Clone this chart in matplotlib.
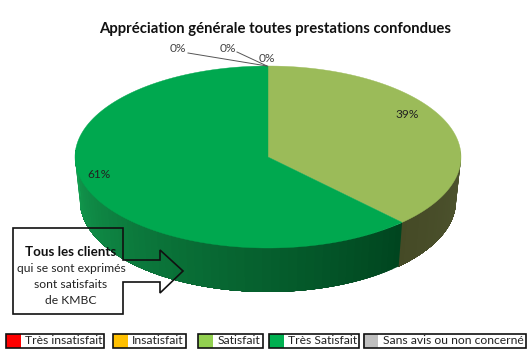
import numpy as np
import matplotlib
matplotlib.use("Agg")
import matplotlib.pyplot as plt
from matplotlib.patches import Polygon, Rectangle
from matplotlib.colors import to_rgb

plt.rcParams['font.family'] = ['Lato', 'DejaVu Sans']

# Values
categories = ['Très insatisfait', 'Insatisfait', 'Satisfait', 'Très Satisfait', 'Sans avis ou non concerné']
shares = [0, 0, 39, 61, 0]
legend_colors = ['#ff0000', '#ffc000', '#92d050', '#00b050', '#bfbfbf']
top_colors = ['#ff0000', '#ffc000', '#9bbb59', '#00a84f', '#bfbfbf']
title = 'Appréciation générale toutes prestations confondues'

# pie geometry in pixels
cx, cy, a, b = 268, 157, 193, 91
cx2, cy2, a2, b2 = 268, 201, 188, 91


def warp(t):
    # the reference is drawn in perspective, angles are a little squeezed
    return t + np.radians(4.5) * np.sin(2 * t)


def rim(t, x0, y0, ra, rb):
    t = warp(t)
    return np.column_stack([x0 + ra * np.sin(t), y0 - rb * np.cos(t)])


fig = plt.figure(figsize=(5.31, 3.54), dpi=100)
ax = fig.add_axes([0, 0, 1, 1])
ax.set_xlim(0, 531)
ax.set_ylim(354, 0)
ax.axis('off')

edges = np.cumsum([0] + shares) / 100 * 2 * np.pi

# side of the pie, only the front half shows
for i, share in enumerate(shares):
    if share == 0:
        continue
    t0, t1 = edges[i], edges[i + 1]
    ts = np.linspace(max(t0, np.radians(85)), min(t1, np.radians(275)), 60)
    for k in range(len(ts) - 1):
        # each piece runs on to the end of the slice, the next one paints over it
        seg = ts[k:]
        pts = np.vstack([rim(seg, cx, cy, a, b), rim(seg[::-1], cx2, cy2, a2, b2)])
        f = (ts[k] - ts[0]) / (ts[-1] - ts[0])
        if categories[i] == 'Satisfait':
            col = np.array(to_rgb('#4f5530')) * (1 - f) + np.array(to_rgb('#454a26')) * f
        else:
            col = np.array(to_rgb('#00451f')) * (1 - f) + np.array(to_rgb('#14a052')) * f
        ax.add_patch(Polygon(pts, closed=True, fc=col, ec='none', zorder=1 + i * 0.01 + k * 0.0001))

# top of the pie
for i, share in enumerate(shares):
    if share == 0:
        continue
    ts = np.linspace(edges[i], edges[i + 1], 120)
    pts = np.vstack([[cx, cy], rim(ts, cx, cy, a, b)])
    ax.add_patch(Polygon(pts, closed=True, fc=top_colors[i], ec=top_colors[i], lw=0.3, zorder=2))

ax.text(275.5, 29, title, ha='center', va='center', fontsize=10.75, fontweight='bold', color='#111111')

# data labels
ax.text(407, 114, f'{shares[2]}%', ha='center', va='center', fontsize=8.6, color='#222222', zorder=4)
ax.text(99, 174, f'{shares[3]}%', ha='center', va='center', fontsize=8.6, color='#222222', zorder=4)
ax.text(178, 49, f'{shares[0]}%', ha='center', va='center', fontsize=8.6, color='#444444')
ax.text(228, 49, f'{shares[1]}%', ha='center', va='center', fontsize=8.6, color='#444444')
ax.text(267, 58, f'{shares[4]}%', ha='center', va='center', fontsize=8.6, color='#444444')
ax.plot([188, 267], [53, 66], color='#555555', lw=0.7, zorder=3)
ax.plot([237, 267], [52, 66], color='#555555', lw=0.7, zorder=3)

# callout, not filled so the pie shows through
callout = [(13, 228), (123, 228), (123, 260), (160, 260), (160, 250), (183, 271),
           (160, 293), (160, 282), (123, 282), (123, 314), (13, 314)]
ax.add_patch(Polygon(callout, closed=True, fc='none', ec='#111111', lw=1.2, zorder=5))
ax.text(71, 252, 'Tous les clients', ha='center', va='center', fontsize=9.6, fontweight='bold', color='#111111', zorder=6)
ax.text(71, 268, 'qui se sont exprimés', ha='center', va='center', fontsize=8.75, color='#222222', zorder=6)
ax.text(71, 284, 'sont satisfaits', ha='center', va='center', fontsize=8.75, color='#222222', zorder=6)
ax.text(71, 300, 'de KMBC', ha='center', va='center', fontsize=8.75, color='#222222', zorder=6)

# legend boxes
box_left = [6, 113, 198, 269, 364]
box_right = [104, 186, 263, 359, 526]
swatch_right = [21, 128, 213, 284, 378]
for i, name in enumerate(categories):
    ax.add_patch(Rectangle((swatch_right[i] - 15, 334), 15, 14, fc=legend_colors[i], ec='none', zorder=5))
    ax.add_patch(Rectangle((box_left[i], 334), box_right[i] - box_left[i], 14, fc='none', ec='#111111', lw=1.2, zorder=6))
    ax.text((swatch_right[i] + box_right[i]) / 2 + 1, 341, name, ha='center', va='center', fontsize=8.7, color='#222222', zorder=7)

fig.savefig('out.png', dpi=100)
